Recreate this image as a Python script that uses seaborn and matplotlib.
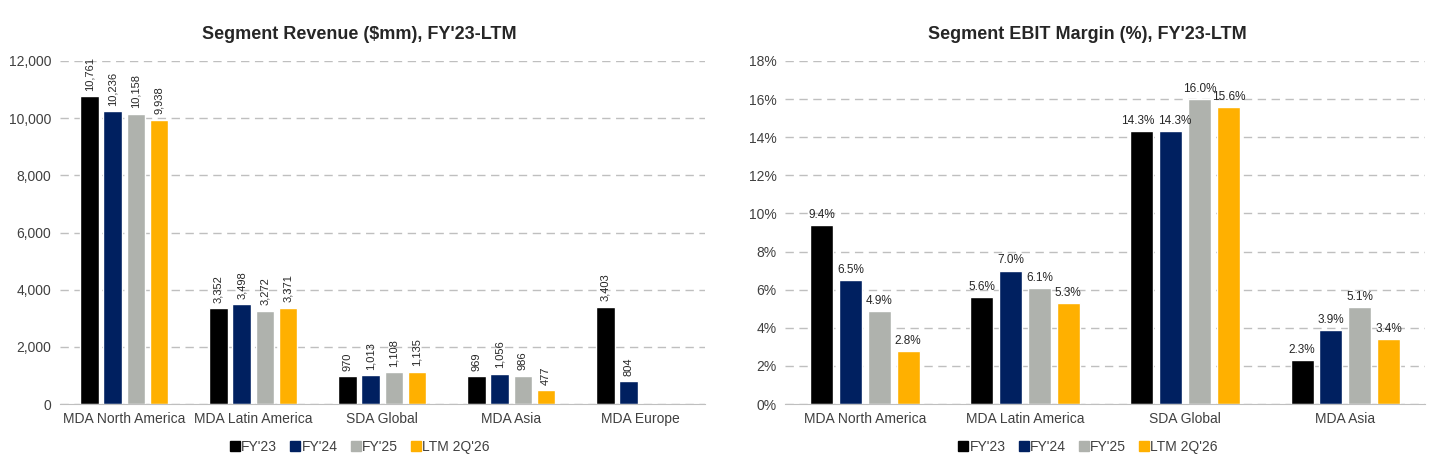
import numpy as np
import pandas as pd
import seaborn as sns
from matplotlib import pyplot as plt
from matplotlib.lines import Line2D

# data
years = ["FY'23", "FY'24", "FY'25", "LTM 2Q'26"]
rev_segments = ['MDA North America', 'MDA Latin America', 'SDA Global', 'MDA Asia', 'MDA Europe']
rev_fy23 = [10761, 3352, 970, 969, 3403]
rev_fy24 = [10236, 3498, 1013, 1056, 804]
rev_fy25 = [10158, 3272, 1108, 986, np.nan]
rev_ltm = [9938, 3371, 1135, 477, np.nan]

ebit_segments = ['MDA North America', 'MDA Latin America', 'SDA Global', 'MDA Asia']
ebit_fy23 = [9.4, 5.6, 14.3, 2.3]
ebit_fy24 = [6.5, 7.0, 14.3, 3.9]
ebit_fy25 = [4.9, 6.1, 16.0, 5.1]
ebit_ltm = [2.8, 5.3, 15.6, 3.4]

colors = ['#000000', '#002060', '#AFB2AD', '#FFB000']

sns.set_style('white')
plt.rcParams['font.family'] = ['Liberation Sans', 'DejaVu Sans']


def to_long(segments, series):
    rows = []
    for yr, vals in zip(years, series):
        for seg, v in zip(segments, vals):
            rows.append({'Segment': seg, 'Year': yr, 'Value': v})
    return pd.DataFrame(rows)


rev_df = to_long(rev_segments, [rev_fy23, rev_fy24, rev_fy25, rev_ltm])
ebit_df = to_long(ebit_segments, [ebit_fy23, ebit_fy24, ebit_fy25, ebit_ltm])

fig = plt.figure(figsize=(14.56, 4.76), dpi=100)
ax1 = fig.add_axes([0.041, 0.151, 0.443, 0.721])
ax2 = fig.add_axes([0.539, 0.151, 0.440, 0.721])


def style_axis(ax, title, title_x):
    ax.set_title(title, fontsize=13, fontweight='bold', pad=16, x=title_x)
    ax.set_xlabel('')
    ax.set_ylabel('')
    for s in ['top', 'right', 'left']:
        ax.spines[s].set_visible(False)
    ax.spines['bottom'].set_color('#BFBFBF')
    ax.yaxis.grid(True, linestyle=(0, (6, 4)), color='#BFBFBF', linewidth=1)
    ax.set_axisbelow(True)
    ax.tick_params(axis='both', length=0, labelsize=10, colors='#404040', pad=6)
    handles = [Line2D([], [], marker='s', linestyle='', color=c, markersize=6.5) for c in colors]
    ax.legend(handles, years, loc='upper center', bbox_to_anchor=(title_x, -0.068), ncol=4,
              frameon=False, fontsize=10, handletextpad=0.05, columnspacing=0.9,
              handlelength=0.8, labelcolor='#404040')


# revenue chart
sns.barplot(data=rev_df, x='Segment', y='Value', hue='Year', hue_order=years, order=rev_segments,
            palette=colors, width=0.72, gap=0.2, saturation=1, errorbar=None, ax=ax1)
ax1.set_ylim(0, 12000)
ax1.set_yticks(range(0, 12001, 2000))
ax1.yaxis.set_major_formatter(plt.FuncFormatter(lambda v, p: f'{v:,.0f}'))
for cont in ax1.containers:
    labs = [f'{b.get_height():,.0f}' if not np.isnan(b.get_height()) and b.get_height() > 0 else ''
            for b in cont]
    ax1.bar_label(cont, labels=labs, rotation=90, padding=4, fontsize=8, color='#262626')
style_axis(ax1, "Segment Revenue ($mm), FY'23-LTM", 0.465)

# EBIT margin chart
sns.barplot(data=ebit_df, x='Segment', y='Value', hue='Year', hue_order=years, order=ebit_segments,
            palette=colors, width=0.72, gap=0.2, saturation=1, errorbar=None, ax=ax2)
ax2.set_ylim(0, 18)
ax2.set_yticks(range(0, 19, 2))
ax2.yaxis.set_major_formatter(plt.FuncFormatter(lambda v, p: f'{v:.0f}%'))
ebit_labels = []
for cont in ax2.containers:
    ebit_labels.append(ax2.bar_label(cont, fmt='%.1f%%', padding=3, fontsize=8.5, color='#262626'))
# the two 14.3% labels on SDA Global sit side by side; nudge them apart a little
ebit_labels[0][2].xyann = (-3, 3)
ebit_labels[1][2].xyann = (3, 3)
style_axis(ax2, "Segment EBIT Margin (%), FY'23-LTM", 0.473)

fig.savefig('out.png', dpi=100, facecolor='white')
